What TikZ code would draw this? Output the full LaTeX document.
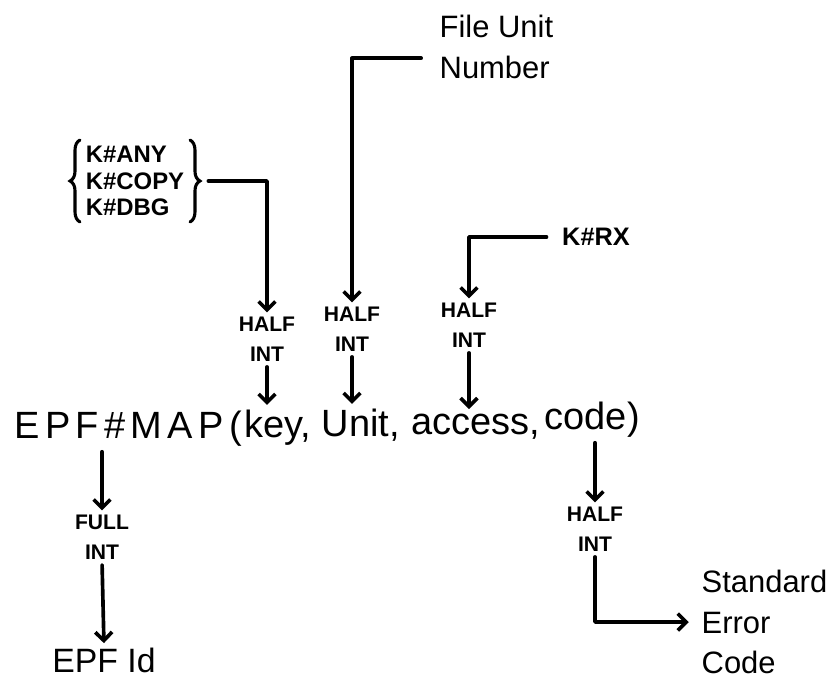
\documentclass[tikz,border=0pt]{standalone}
\usepackage{fontspec}
\setmainfont{Liberation Sans}
\usetikzlibrary{arrows.meta,decorations.pathreplacing}
\tikzset{
  link/.style={line width=2.6pt, line cap=round, line join=round, shorten <=3pt, shorten >=2pt,
    -{Straight Barb[length=6pt,width=12pt,line width=2.6pt]}},
  curly/.style={line width=2.2pt, line cap=round, decorate, decoration={brace,amplitude=7pt}},
  tag/.style={font=\bfseries\fontsize{15}{21}\selectfont, align=center, inner sep=1pt},
  call/.style={font=\fontsize{27}{30}\selectfont, inner sep=1pt, anchor=base west},
  note/.style={font=\fontsize{22}{29}\selectfont, align=left, inner sep=1pt},
}
\begin{document}
\begin{tikzpicture}[x=0.025cm,y=-0.025cm]
        \useasboundingbox (0,0) rectangle (836,692);
        % the call
        \node[call] (epfmap) at (13,438) {\addfontfeature{LetterSpace=14}EPF\#MAP(};
        \node[call] (key) at (243,437) {key,};
        \node[call] (unit) at (320,436) {Unit,};
        \node[call] (access) at (410,434) {access,};
        \node[call] (code) at (543,429) {code)};
        % types
        \node[tag] (half1) at (267,339) {HALF\\INT};
        \node[tag] (half2) at (352,329) {HALF\\INT};
        \node[tag] (half3) at (469,325) {HALF\\INT};
        \node[tag] (full) at (102,537) {FULL\\INT};
        \node[tag] (half4) at (595,529) {HALF\\INT};
        % inputs
        \node[tag, align=left, inner sep=4pt, font=\bfseries\fontsize{17}{19}\selectfont] (keys) at (135,181)
          {K\#ANY\\K\#COPY\\K\#DBG};
        \draw[curly] (keys.south west) -- (keys.north west);
        \draw[curly] (keys.north east) -- (keys.south east);
        \node[tag, font=\bfseries\fontsize{18}{20}\selectfont] (krx) at (596,237) {K\#RX};
        \node[note, anchor=west] (fileunit) at (438,47) {File Unit\\Number};
        % results
        \node[note, font=\fontsize{24}{28}\selectfont] (epfid) at (104,660) {EPF Id};
        \node[note, anchor=west] (stderr) at (700,622) {Standard\\Error\\Code};
        % arrows
        \draw[link, shorten <=13pt] (keys.east) -| (half1.north);
        \draw[link, shorten <=12pt] ([yshift=-8pt]fileunit.west) -| (half2.north);
        \draw[link, shorten <=10pt] (krx.west) -| (half3.north);
        \draw[link] (half1.south) -- (half1.south |- key.north);
        \draw[link] (half2.south) -- (half2.south |- unit.north);
        \draw[link] (half3.south) -- (half3.south |- access.north);
        \draw[link] (full.north |- epfmap.south) -- (full.north);
        \draw[link] (full.south) -- (epfid.north);
        \draw[link] (code.south -| half4.north) -- (half4.north);
        \draw[link, shorten >=8pt] (half4.south) |- (stderr.west);
\end{tikzpicture}
\end{document}
